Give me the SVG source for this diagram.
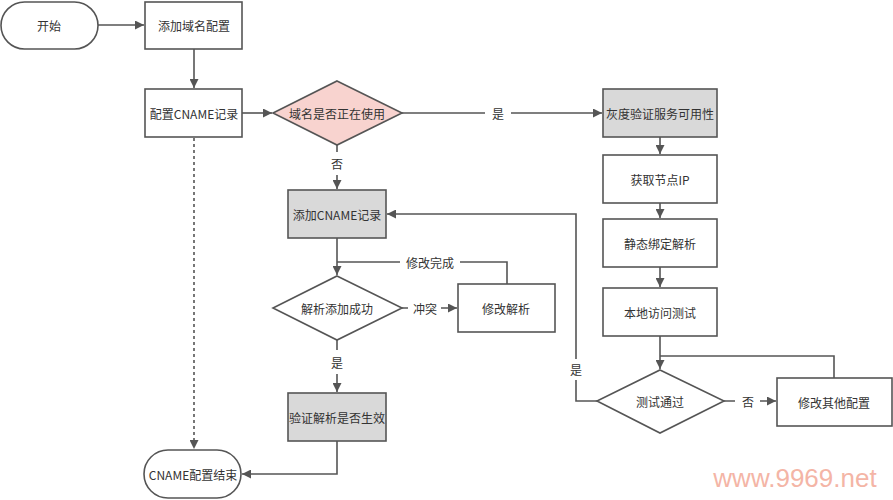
<svg xmlns="http://www.w3.org/2000/svg" width="893" height="500" viewBox="0 0 893 500">
<defs>
<marker id="arr" viewBox="0 0 10 10" refX="10" refY="5" markerWidth="9" markerHeight="9" markerUnits="userSpaceOnUse" orient="auto">
<path d="M0,0 L10,5 L0,10 z" fill="#555"/>
</marker>
<style>
.box{fill:#fff;stroke:#555;stroke-width:1.6}
.gray{fill:#d9d9d9;stroke:#555;stroke-width:1.6}
.pink{fill:#f8d3cf;stroke:#555;stroke-width:1.6}
.ln{fill:none;stroke:#555;stroke-width:1.6}
.dot{fill:none;stroke:#555;stroke-width:1.6;stroke-dasharray:3 3}
text{font-family:"Noto Sans CJK SC","Liberation Sans",sans-serif;font-size:12px;fill:#333;text-anchor:middle;dominant-baseline:central}
.wm{font-family:"Liberation Sans",sans-serif;font-size:26px;fill:#f4b5a6;text-anchor:middle;dominant-baseline:central}
</style>
</defs>
<rect width="893" height="500" fill="#fff"/>
<g id="connectors">
<path class="ln" d="M98,25 H144" marker-end="url(#arr)"/>
<path class="ln" d="M194,49 V88" marker-end="url(#arr)"/>
<path class="ln" d="M242,113 H272" marker-end="url(#arr)"/>
<path class="ln" d="M402,113 H485 M511,113 H602" marker-end="url(#arr)"/>
<path class="ln" d="M337,145 V152 M337,175 V189" marker-end="url(#arr)"/>
<path class="dot" d="M194,138 V449" marker-end="url(#arr)"/>
<path class="ln" d="M660,137 V154" marker-end="url(#arr)"/>
<path class="ln" d="M660,203 V218" marker-end="url(#arr)"/>
<path class="ln" d="M660,267 V287" marker-end="url(#arr)"/>
<path class="ln" d="M660,336 V369" marker-end="url(#arr)"/>
<path class="ln" d="M834,378 V356 H660"/>
<path class="ln" d="M724,401 H735 M760,401 H776" marker-end="url(#arr)"/>
<path class="ln" d="M597,401 H576 V380 M576,359 V214 H387" marker-end="url(#arr)"/>
<path class="ln" d="M337,238 V275" marker-end="url(#arr)"/>
<path class="ln" d="M507,284 V262 H460 M400,262 H337"/>
<path class="ln" d="M402,308 H408 M441,308 H457" marker-end="url(#arr)"/>
<path class="ln" d="M337,340 V350 M337,374 V392" marker-end="url(#arr)"/>
<path class="ln" d="M337,441 V474 H242" marker-end="url(#arr)"/>
</g>
<g id="labels">
<text x="498" y="113">是</text>
<text x="337" y="163">否</text>
<text x="430" y="262">修改完成</text>
<text x="425" y="308">冲突</text>
<text x="337" y="362">是</text>
<text x="576" y="369">是</text>
<text x="748" y="401">否</text>
</g>
<g id="n-start"><rect class="box" x="1" y="2" width="97" height="47" rx="23.5"/><text x="49" y="25">开始</text></g>
<g id="n-add-domain"><rect class="box" x="145" y="2" width="97" height="47"/><text x="194" y="25">添加域名配置</text></g>
<g id="n-cname"><rect class="box" x="145" y="89" width="97" height="48"/><text x="194" y="113">配置CNAME记录</text></g>
<g id="n-inuse"><polygon class="pink" points="337,81 402,113 337,145 273,113"/><text x="337" y="113">域名是否正在使用</text></g>
<g id="n-gray"><rect class="gray" x="603" y="89" width="114" height="48"/><text x="660" y="113">灰度验证服务可用性</text></g>
<g id="n-ip"><rect class="box" x="603" y="155" width="114" height="48"/><text x="660" y="179">获取节点IP</text></g>
<g id="n-static"><rect class="box" x="603" y="219" width="114" height="48"/><text x="660" y="243">静态绑定解析</text></g>
<g id="n-local"><rect class="box" x="603" y="288" width="114" height="48"/><text x="660" y="312">本地访问测试</text></g>
<g id="n-testpass"><polygon class="box" points="660,370 724,401 660,433 597,401"/><text x="660" y="401">测试通过</text></g>
<g id="n-other"><rect class="box" x="777" y="378" width="115" height="48"/><text x="834" y="402">修改其他配置</text></g>
<g id="n-addcname"><rect class="gray" x="288" y="190" width="98" height="48"/><text x="337" y="214">添加CNAME记录</text></g>
<g id="n-success"><polygon class="box" points="337,276 402,308 337,340 273,308"/><text x="337" y="308">解析添加成功</text></g>
<g id="n-fix"><rect class="box" x="458" y="284" width="97" height="48"/><text x="506" y="308">修改解析</text></g>
<g id="n-verify"><rect class="gray" x="288" y="393" width="98" height="48"/><text x="337" y="417">验证解析是否生效</text></g>
<g id="n-end"><rect class="box" x="144" y="450" width="97" height="48" rx="24"/><text x="193" y="474">CNAME配置结束</text></g>
<text class="wm" x="795" y="478">www.9969.net</text>
</svg>
